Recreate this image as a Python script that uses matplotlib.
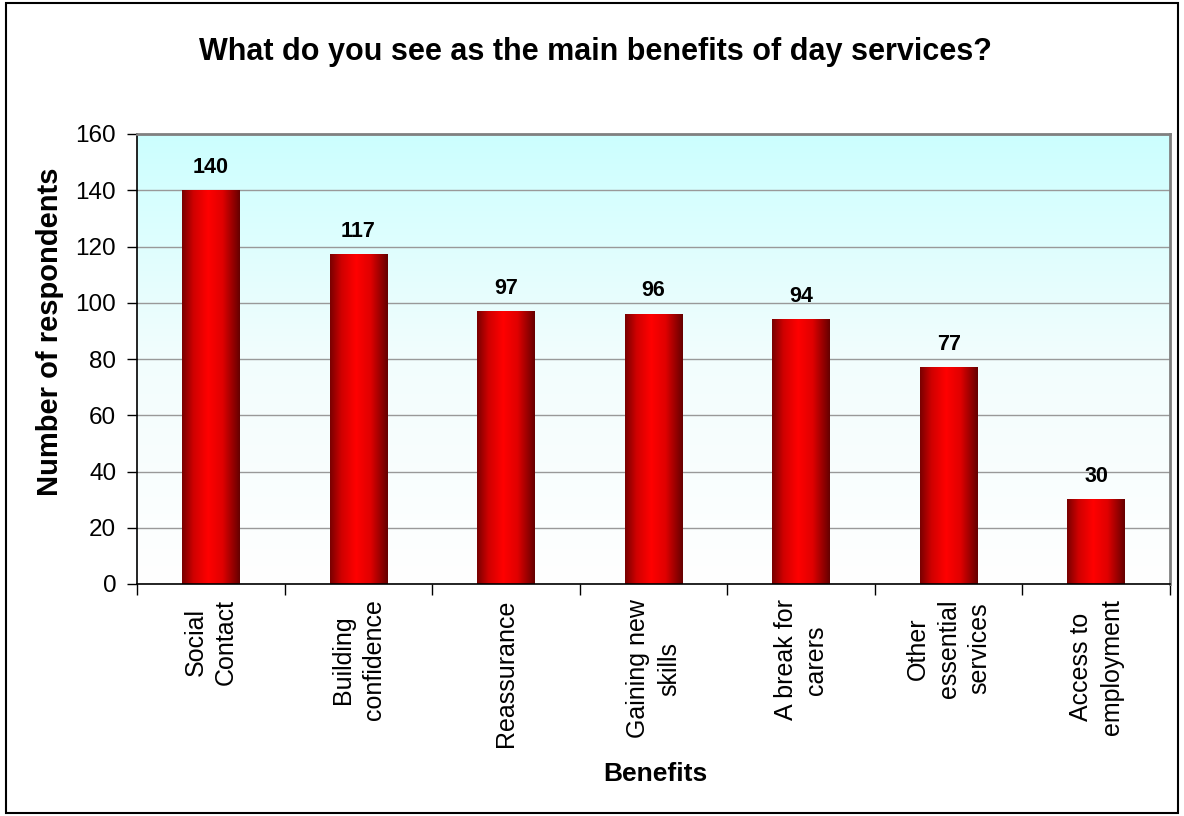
import matplotlib.pyplot as plt
import numpy as np
from matplotlib.colors import LinearSegmentedColormap
from matplotlib.patches import Rectangle

plt.rcParams['font.family'] = ['Liberation Sans', 'DejaVu Sans']

benefits = ['Social\nContact', 'Building\nconfidence', 'Reassurance',
            'Gaining new\nskills', 'A break for\ncarers',
            'Other\nessential\nservices', 'Access to\nemployment']
respondents = [140, 117, 97, 96, 94, 77, 30]
y_ticks = [0, 20, 40, 60, 80, 100, 120, 140, 160]

bg_cmap = LinearSegmentedColormap.from_list('bg', ['#ffffff', '#f2fdfd', '#ccffff'])
bar_cmap = LinearSegmentedColormap.from_list(
    'cyl', [(0.0, '#780000'), (0.2, '#d00000'), (0.45, '#ff0000'),
            (0.7, '#e00000'), (1.0, '#650000')])

fig = plt.figure(figsize=(11.84, 8.16), dpi=100)
ax = fig.add_axes([137 / 1184, 1 - 584 / 816, (1170 - 137) / 1184, (584 - 134) / 816])

x = np.arange(len(benefits))
ax.set_xlim(-0.5, len(benefits) - 0.5)
ax.set_ylim(0, 160)

# vertical cyan-to-white wash behind the plot
grad = np.linspace(0, 1, 256).reshape(-1, 1)
ax.imshow(grad, extent=[-0.5, len(benefits) - 0.5, 0, 160], origin='lower',
          aspect='auto', cmap=bg_cmap, zorder=0)

# bars with a horizontal shading so they look like cylinders
bars = ax.bar(x, respondents, width=0.39, color='none', zorder=2)
hgrad = np.linspace(0, 1, 256).reshape(1, -1)
for b, v in zip(bars, respondents):
    ax.imshow(hgrad, extent=[b.get_x(), b.get_x() + b.get_width(), 0, v],
              aspect='auto', cmap=bar_cmap, zorder=2)
    ax.annotate(str(v), (b.get_x() + b.get_width() / 2, v), xytext=(0, 9),
                textcoords='offset points', ha='center', va='bottom',
                fontsize=15.5, fontweight='bold')

ax.set_xlim(-0.5, len(benefits) - 0.5)
ax.set_ylim(0, 160)

ax.set_axisbelow(True)
ax.yaxis.grid(True, color='#999999', lw=1)
ax.set_yticks(y_ticks)
ax.tick_params(axis='y', direction='out', length=7, width=1, pad=8, labelsize=17.5)

ax.set_xticks(np.arange(-0.5, len(benefits), 1))
ax.set_xticklabels([])
ax.set_xticks(x, minor=True)
ax.set_xticklabels(benefits, minor=True, rotation=90, multialignment='center',
                   linespacing=1.35)
ax.tick_params(axis='x', which='major', direction='out', length=8, width=1)
ax.tick_params(axis='x', which='minor', length=0, pad=11, labelsize=18)

for side in ['left', 'bottom']:
    ax.spines[side].set_color('black')
    ax.spines[side].set_linewidth(1.2)
for side in ['top', 'right']:
    ax.spines[side].set_color('#808080')
    ax.spines[side].set_linewidth(2)

fig.text(50 / 1184, 1 - 332 / 816, 'Number of respondents', rotation=90,
         ha='center', va='center', fontsize=21, fontweight='bold')
fig.text(655 / 1184, 1 - 774 / 816, 'Benefits',
         ha='center', va='center', fontsize=19, fontweight='bold')
fig.text(595 / 1184, 1 - 52 / 816, 'What do you see as the main benefits of day services?',
         ha='center', va='center', fontsize=22, fontweight='bold')

fig.patches.append(Rectangle((6 / 1184, 3 / 816), 1172 / 1184, 810 / 816,
                             transform=fig.transFigure, fill=False,
                             ec='black', lw=1.5))

fig.savefig('out.png', dpi=100)
